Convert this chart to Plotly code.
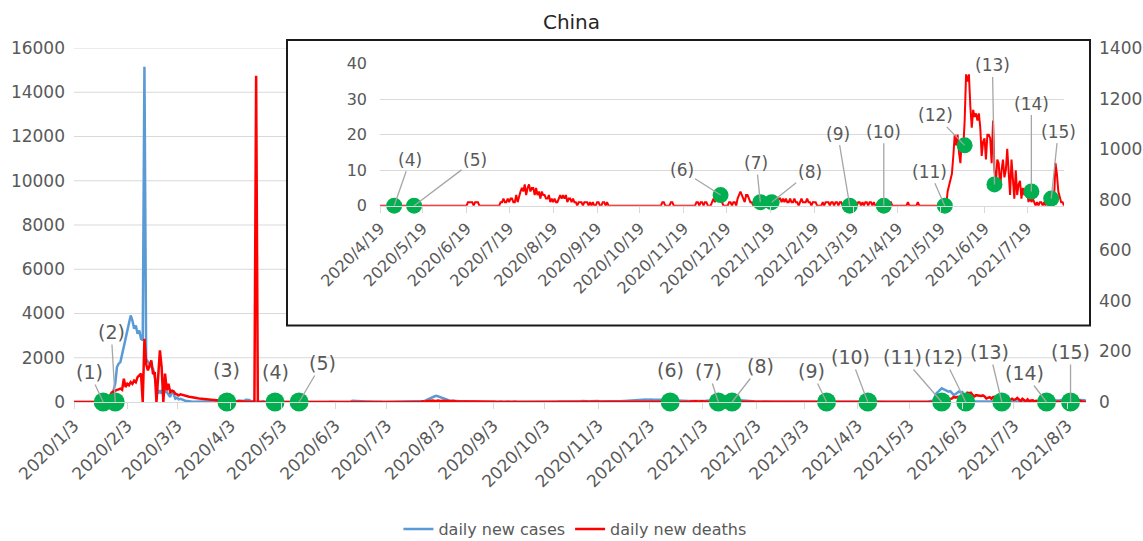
import pandas as pd
import plotly.graph_objects as go

# ---------------- DATA (daily values) ----------------
# daily new cases (left axis); first month starts 2020-01-03
cases_2020_01 = [0,0,0,0,0,0,0,0,0,0,0,0,0,0,0,0,0,0,0,0,0,60,225,526,827,1579,1730,1805,2150]
cases_2020_02 = [2480,2782,3234,3610,3910,3685,3309,3460,3083,3234,2858,2782,15152,1950,1805,1700,1579,1504,1128,827,376,526,376,677,451,451,330,225,555]
cases_2020_03 = [346,150,200,120,140,100,60,45,40,20,24,15,10,12,20,16,21,13,34,39,41,46,39,78,47,67,55,54,45,31,48]
cases_2020_04 = [36,35,31,29,44,39,32,62,63,42,46,99,108,89,46,46,26,27,16,12,11,30,10,12,11,3,3,22,2,4]
cases_2020_05 = [2,2,1,2,1,2,4,1,14,17,1,7,3,4,5,4,6,4,6,5,4,3,5,11,7,2,4,7,1,4,16]
cases_2020_06 = [5,7,5,2,5,6,4,3,3,3,11,8,57,49,40,28,31,25,32,26,18,22,12,19,13,11,12,19,7,7]
cases_2020_07 = [3,5,3,8,7,6,8,7,4,7,5,3,8,4,4,5,13,22,17,11,14,22,22,34,46,90,130,160,200,230,260]
cases_2020_08 = [280,250,220,180,150,120,100,80,70,60,50,45,40,35,30,25,30,25,20,20,25,20,15,15,20,15,10,12,10,15,10]
cases_2020_09 = [10,8,12,10,8,10,12,10,8,10,14,10,10,12,10,8,15,20,15,12,10,12,14,10,8,10,12,10,15,12]
cases_2020_10 = [20,15,12,18,20,15,12,10,14,16,20,30,25,20,18,16,20,15,20,24,18,20,15,30,40,30,25,20,25,30,40]
cases_2020_11 = [35,30,40,25,30,35,40,30,25,30,35,30,40,45,30,35,40,50,45,55,60,70,80,90,100,90,110,100,95,105]
cases_2020_12 = [110,100,120,110,100,105,90,100,115,120,100,95,90,80,85,80,70,75,70,60,50,40,45,40,35,40,50,45,40,45,50]
cases_2021_01 = [40,35,45,50,60,70,80,90,110,120,130,140,150,130,140,150,120,130,110,100,120,110,90,80,100,80,70,60,50,40,35]
cases_2021_02 = [30,25,20,18,15,14,12,10,14,12,10,8,10,12,8,10,12,8,10,12,8,6,10,8,10,12,8,10]
cases_2021_03 = [10,12,10,8,10,12,14,10,12,10,8,10,12,14,10,12,10,14,16,12,10,12,14,10,12,16,14,12,10,14,12]
cases_2021_04 = [15,20,25,30,20,25,20,30,25,20,15,12,15,20,18,15,12,14,16,12,15,18,20,15,12,14,16,12,10,14]
cases_2021_05 = [12,14,10,12,14,16,12,10,14,12,16,14,12,15,30,40,60,220,400,470,540,620,580,540,500,470,490,400,320,350,410]
cases_2021_06 = [470,430,450,280,120,60,40,35,30,28,25,30,35,40,30,25,28,30,25,22,20,25,30,28,25,22,20,25,30,28]
cases_2021_07 = [25,30,28,25,30,35,40,30,28,25,30,28,25,30,35,40,45,40,35,30,40,50,60,55,70,80,75,70,65,80,90]
cases_2021_08 = [100,110,90,100,120,100,90,110,100,80,90,100,80,60]

# daily new deaths (right axis / inset); first month starts 2020-01-03
deaths_2020_01 = [0,0,0,0,0,0,0,0,0,0,0,0,0,0,0,0,0,0,0,0,17,25,38,42,46,48,50,53,48]
deaths_2020_02 = [92,59,72,66,79,72,85,78,98,105,112,0,250,150,125,145,164,110,118,0,85,204,138,0,112,46,72,39,44]
deaths_2020_03 = [42,33,31,26,30,28,27,22,22,21,20,18,17,15,15,14,13,13,12,11,10,10,9,8,8,7,6,6,5,5,4]
deaths_2020_04 = [4,3,4,3,3,2,2,3,2,2,1,2,1,1,1,1,0,1290,0,0,0,0,0,0,0,0,0,0,0,0]
deaths_2020_05 = [0,0,0,0,0,0,0,0,0,0,0,0,0,0,0,0,0,0,0,0,0,0,0,0,0,0,0,0,0,0,0]
deaths_2020_06 = [0,0,0,0,0,0,0,0,0,0,0,0,0,0,0,0,0,0,0,1,1,1,1,0,1,1,1,0,0,0]
deaths_2020_07 = [0,0,0,0,0,0,0,0,0,0,0,0,1,1,2,1,1,2,1,2,2,1,1,3,1,3,4,5,4,6,3]
deaths_2020_08 = [5,6,4,5,5,3,5,3,4,2,4,3,3,2,2,3,1,2,1,2,1,1,2,3,2,3,2,3,1,2,2]
deaths_2020_09 = [1,2,1,1,0,1,1,1,0,1,1,1,0,1,0,1,0,0,1,1,0,0,1,1,0,1,0,0,0,0]
deaths_2020_10 = [0,0,0,0,0,0,0,0,0,0,0,0,0,0,0,0,0,0,0,0,0,0,0,0,0,0,0,0,0,0,0]
deaths_2020_11 = [0,0,0,1,1,0,0,0,0,1,1,0,0,0,0,0,0,0,0,0,0,0,0,0,0,0,0,1,1,0]
deaths_2020_12 = [1,1,0,1,1,0,0,0,1,2,1,2,3,2,3,1,0,0,0,0,1,1,0,1,1,0,2,3,4,3,2]
deaths_2021_01 = [1,3,3,2,1,1,0,1,0,1,1,1,1,1,0,1,1,1,1,1,1,0,1,1,2,2,1,2,1,2,1]
deaths_2021_02 = [1,2,1,1,2,1,1,0,1,2,1,1,1,2,1,1,0,1,1,1,0,0,0,0,1,0,1,1]
deaths_2021_03 = [1,0,1,1,0,1,1,0,1,1,0,0,0,0,0,0,0,0,1,1,0,1,1,0,1,0,1,1,0,1,1]
deaths_2021_04 = [0,1,0,0,0,1,1,0,1,1,0,1,1,1,0,0,0,0,0,0,0,0,0,0,0,1,0,0,0,0]
deaths_2021_05 = [0,0,1,0,0,0,0,0,0,0,0,0,0,0,0,0,0,0,0,0,0,0,0,4,6,7,9,14,20,17,20]
deaths_2021_06 = [15,12,19,16,24,37,35,37,28,22,27,25,26,24,26,22,14,18,19,13,20,20,19,12,24,10,6,13,12,5]
deaths_2021_07 = [10,13,8,10,16,10,3,13,6,2,10,3,6,7,2,5,3,4,4,1,3,1,2,1,0,1,0,1,1,0,1]
deaths_2021_08 = [0,1,0,1,0,1,2,12,9,4,2,1,1,0]

# events (green dots)
event_labels = ["(1)", "(2)", "(3)", "(4)", "(5)", "(6)", "(7)", "(8)",
                "(9)", "(10)", "(11)", "(12)", "(13)", "(14)", "(15)"]
event_dates = ["2020-01-20", "2020-01-27", "2020-04-01", "2020-04-29", "2020-05-13",
               "2020-12-15", "2021-01-12", "2021-01-20", "2021-03-16", "2021-04-09",
               "2021-05-22", "2021-06-05", "2021-06-26", "2021-07-22", "2021-08-05"]
event_main_values = [0, 0, 0, 0, 0, 0, 0, 0, 0, 0, 0, 0, 0, 0, 0]
# events (4)..(15) drawn in the inset, with their inset values
inset_event_values = [0, 0, 3, 1, 1, 0, 0, 0, 17, 6, 4, 2]

inset_start = "2020-04-19"
left_axis_ticks = [0, 2000, 4000, 6000, 8000, 10000, 12000, 14000, 16000]

# ---------------- assemble series ----------------
cases_months = [cases_2020_01, cases_2020_02, cases_2020_03, cases_2020_04, cases_2020_05,
                cases_2020_06, cases_2020_07, cases_2020_08, cases_2020_09, cases_2020_10,
                cases_2020_11, cases_2020_12, cases_2021_01, cases_2021_02, cases_2021_03,
                cases_2021_04, cases_2021_05, cases_2021_06, cases_2021_07, cases_2021_08]
deaths_months = [deaths_2020_01, deaths_2020_02, deaths_2020_03, deaths_2020_04, deaths_2020_05,
                 deaths_2020_06, deaths_2020_07, deaths_2020_08, deaths_2020_09, deaths_2020_10,
                 deaths_2020_11, deaths_2020_12, deaths_2021_01, deaths_2021_02, deaths_2021_03,
                 deaths_2021_04, deaths_2021_05, deaths_2021_06, deaths_2021_07, deaths_2021_08]


def build(months):
    xs, ys = [], []
    for i, vals in enumerate(months):
        first = pd.Timestamp(2020, 1, 1) + pd.DateOffset(months=i)
        if i == 0:
            first = pd.Timestamp(2020, 1, 3)
        n_days = (first + pd.offsets.MonthBegin(1) - first).days
        vals = vals[:n_days]
        xs.extend(pd.date_range(first, periods=len(vals), freq="D"))
        ys.extend(vals)
    return xs, ys


case_x, case_y = build(cases_months)
death_x, death_y = build(deaths_months)
inset_x = [d for d in death_x if d >= pd.Timestamp(inset_start)]
inset_y = [v for d, v in zip(death_x, death_y) if d >= pd.Timestamp(inset_start)]
x_start, x_end = case_x[0], max(case_x[-1], death_x[-1])

# ---------------- layout geometry (pixels) ----------------
W, H = 1143, 541
PL, PR, PT, PB = 74, 1086, 48, 402


def fx(px):
    return (px - PL) / (PR - PL)


def fy(py):
    return (PB - py) / (PB - PT)


FONT = "DejaVu Sans"
TXT = "#595959"
GRID = "#d9d9d9"
GREEN = "#00B050"
BLUE = "#5B9BD5"
RED = "#FF0000"

fig = go.Figure()
fig.add_trace(go.Scatter(x=case_x, y=case_y, name="daily new cases", mode="lines",
                         line=dict(color=BLUE, width=2.5), xaxis="x", yaxis="y"))
fig.add_trace(go.Scatter(x=death_x, y=death_y, name="daily new deaths", mode="lines",
                         line=dict(color=RED, width=2.5), xaxis="x", yaxis="y2"))
fig.add_trace(go.Scatter(x=event_dates, y=event_main_values, mode="markers", showlegend=False,
                         marker=dict(color=GREEN, size=19), cliponaxis=False,
                         xaxis="x", yaxis="y2", hoverinfo="skip"))
fig.add_trace(go.Scatter(x=inset_x, y=inset_y, mode="lines", showlegend=False,
                         line=dict(color=RED, width=2), xaxis="x2", yaxis="y3"))
fig.add_trace(go.Scatter(x=event_dates[3:], y=inset_event_values, mode="markers", showlegend=False,
                         marker=dict(color=GREEN, size=16), cliponaxis=False,
                         xaxis="x2", yaxis="y3", hoverinfo="skip"))

# label placement (pixel offsets of label centre relative to its dot)
main_offsets = [(-14, -30, True), (-4, -70, True), (0, 32, False), (0, 30, False), (23, -39, True),
                (0, 32, False), (-10, -31, True), (28, -36, True), (-15, -31, True), (-17, -45, True),
                (-39, -45, True), (-22, -45, True), (-12, -50, True), (-22, -29, True), (0, -50, True)]
inset_offsets = [(16, -46), (61, -46), (-39, -25), (-4, -39), (38, -30), (-12, -72),
                 (0, -74), (-15, -34), (-29, -30), (-2, -119), (0, -88), (7, -67)]

annotations = []
for lab, d, v, (ax, ay, arrow) in zip(event_labels, event_dates, event_main_values, main_offsets):
    if arrow:
        annotations.append(dict(x=d, y=v, xref="x", yref="y2", text=lab, showarrow=True,
                                ax=ax, ay=ay, arrowhead=0, arrowwidth=1.3, arrowcolor="#a6a6a6",
                                font=dict(family=FONT, size=19, color=TXT)))
    else:
        annotations.append(dict(x=d, y=v, xref="x", yref="y2", text=lab, showarrow=False,
                                yshift=ay, font=dict(family=FONT, size=19, color=TXT)))
for lab, d, v, (ax, ay) in zip(event_labels[3:], event_dates[3:], inset_event_values, inset_offsets):
    annotations.append(dict(x=d, y=v, xref="x2", yref="y3", text=lab, showarrow=True,
                            ax=ax, ay=ay, arrowhead=0, arrowwidth=1.3, arrowcolor="#a6a6a6",
                            font=dict(family=FONT, size=17, color=TXT)))

# main horizontal gridlines drawn as shapes so the inset panel can hide them
shapes = [dict(type="line", xref="x domain", yref="y", x0=0, x1=1, y0=v, y1=v,
               line=dict(color=GRID, width=1), layer="below") for v in left_axis_ticks[1:]]
shapes += [
    # white panel behind the inset
    dict(type="rect", xref="x domain", yref="y domain", x0=fx(287), x1=fx(1090),
         y0=fy(325.5), y1=fy(40), fillcolor="white", line=dict(width=0), layer="below"),
    # inset frame
    dict(type="rect", xref="paper", yref="paper", x0=fx(287), x1=fx(1090),
         y0=fy(325.5), y1=fy(40), fillcolor="rgba(0,0,0,0)",
         line=dict(color="#1a1a1a", width=2), layer="above"),
]

fig.update_layout(
    width=W, height=H,
    margin=dict(l=PL, r=W - PR, t=PT, b=H - PB, autoexpand=False),
    paper_bgcolor="white", plot_bgcolor="white",
    title=dict(text="China", x=0.5, xanchor="center", y=1 - 22 / H, yanchor="middle",
               font=dict(family=FONT, size=20, color="#262626")),
    showlegend=True,
    legend=dict(orientation="h", x=0.503, xref="container", xanchor="center",
                y=fy(529), yanchor="middle", font=dict(family=FONT, size=16, color=TXT),
                bgcolor="rgba(0,0,0,0)"),
    xaxis=dict(type="date", range=[x_start, x_end], tick0="2020-01-03", dtick="M1",
               tickformat="%Y/%-m/%-d", tickangle=-45, showgrid=False, zeroline=False,
               showline=True, linecolor=GRID, linewidth=1, ticks="outside", ticklen=6,
               tickcolor=GRID, tickfont=dict(family=FONT, size=17, color=TXT)),
    yaxis=dict(range=[0, 16000], tickvals=left_axis_ticks, tickformat="d", showgrid=False,
               zeroline=False, showline=False, ticks="", ticklabelstandoff=8,
               tickfont=dict(family=FONT, size=17, color=TXT)),
    yaxis2=dict(range=[0, 1400], dtick=200, tickformat="d", overlaying="y", side="right",
                showgrid=False, zeroline=False, showline=False, ticks="", ticklabelstandoff=12,
                tickfont=dict(family=FONT, size=17, color=TXT)),
    xaxis2=dict(type="date", domain=[fx(380), fx(1064)], anchor="y3",
                range=[pd.Timestamp(inset_start), x_end], tick0=inset_start, dtick="M1",
                tickformat="%Y/%-m/%-d", tickangle=-45, showgrid=False, zeroline=False,
                showline=True, linecolor=GRID, linewidth=1, ticks="outside", ticklen=6,
                tickcolor=GRID, tickfont=dict(family=FONT, size=16, color=TXT)),
    yaxis3=dict(domain=[fy(205.7), fy(63.7)], anchor="x2", range=[0, 40], dtick=10,
                showgrid=True, gridcolor=GRID, gridwidth=1, zeroline=False, showline=False,
                ticks="", ticklabelstandoff=12, tickfont=dict(family=FONT, size=16, color=TXT)),
    annotations=annotations,
    shapes=shapes,
)

fig.write_html("out.html",
               config={"displayModeBar": False},
               post_script="document.body.style.margin='0px';"
                           "document.body.style.overflow='hidden';")
